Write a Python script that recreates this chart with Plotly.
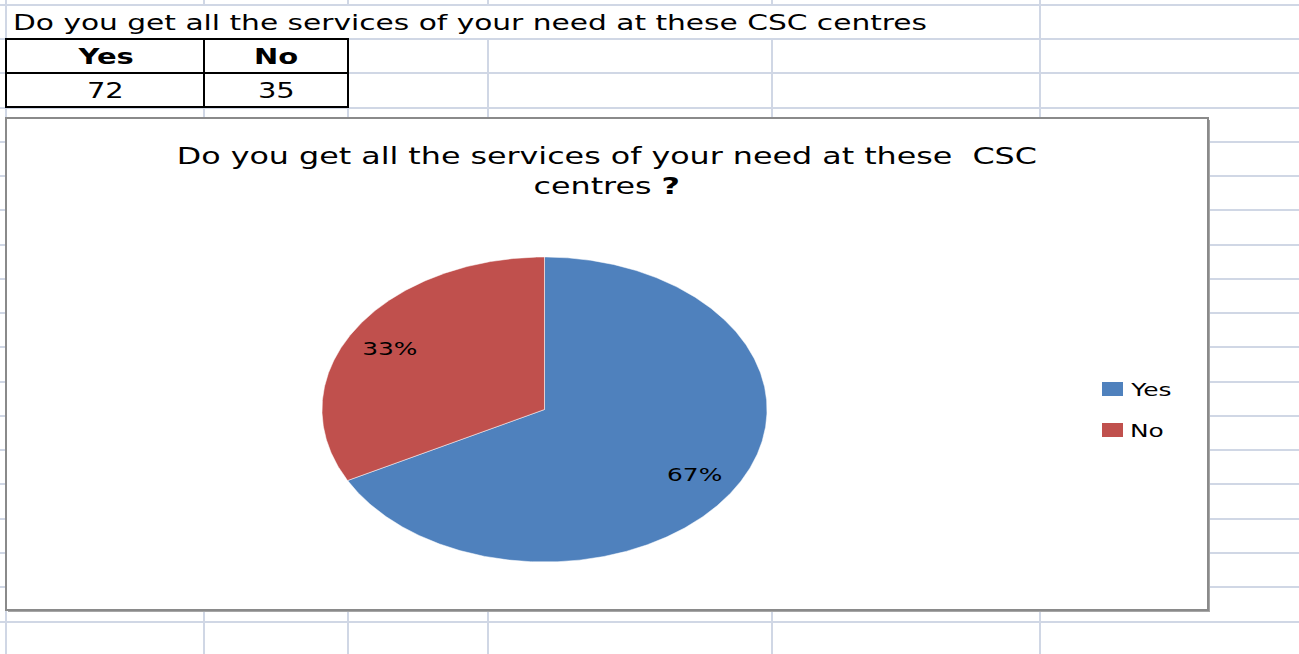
import numpy as np
import plotly.graph_objects as go

# Survey answers
question = "Do you get all the services of your need at these CSC centres"
categories = ["Yes", "No"]
counts = [72, 35]
colors = ["#4F81BD", "#C0504D"]

W, H = 1299, 654
FONT = "DejaVu Sans"
TEXT_STRETCH = 1.38  # horizontal stretch applied to every text element

# Worksheet grid positions (pixels)
col_lines = [6, 204, 348, 488, 772, 1040]
row_lines = [5, 39, 73, 108, 142, 176, 210, 245, 279, 313, 347, 382, 416,
             450, 484, 519, 553, 587, 622]
GRID = "#D0D7E5"

fig = go.Figure()
shapes = []
annotations = []

# sheet gridlines
for x in col_lines:
    shapes.append(dict(type="line", xref="x", yref="y", x0=x, x1=x, y0=0, y1=H,
                       line=dict(color=GRID, width=2), layer="below"))
for y in row_lines:
    shapes.append(dict(type="line", xref="x", yref="y", x0=0, x1=W, y0=y, y1=y,
                       line=dict(color=GRID, width=2), layer="below"))

# white cell behind the question text / table
shapes.append(dict(type="rect", xref="x", yref="y", x0=7, x1=1038, y0=6, y1=38,
                   fillcolor="white", line=dict(width=0), layer="below"))
shapes.append(dict(type="rect", xref="x", yref="y", x0=7, x1=347, y0=40, y1=106,
                   fillcolor="white", line=dict(width=0), layer="below"))

# question text in the sheet
annotations.append(dict(xref="x", yref="y", x=11, y=22, text=question,
                        showarrow=False, xanchor="left", yanchor="middle", align="left",
                        font=dict(family=FONT, size=21.5, color="black")))

# data table
tbl_x = [6, 204, 348]
tbl_y = [39, 73, 107]
for i in range(len(categories)):
    for j in range(2):
        shapes.append(dict(type="rect", xref="x", yref="y",
                           x0=tbl_x[i], x1=tbl_x[i + 1], y0=tbl_y[j], y1=tbl_y[j + 1],
                           line=dict(color="black", width=2), layer="below"))
    cx = (tbl_x[i] + tbl_x[i + 1]) / 2
    annotations.append(dict(xref="x", yref="y", x=cx, y=(tbl_y[0] + tbl_y[1]) / 2 + 1,
                            text="<b>%s</b>" % categories[i], showarrow=False,
                            font=dict(family=FONT, size=21, color="black")))
    annotations.append(dict(xref="x", yref="y", x=cx, y=(tbl_y[1] + tbl_y[2]) / 2 + 1,
                            text=str(counts[i]), showarrow=False,
                            font=dict(family=FONT, size=21, color="black")))

# chart area box
box = dict(x0=6, x1=1208, y0=118, y1=610)
shapes.append(dict(type="rect", xref="x", yref="y", x0=box["x0"] + 2, x1=box["x1"] + 2,
                   y0=box["y0"] + 2, y1=box["y1"] + 2,
                   fillcolor="#A6A6A6", line=dict(width=0), layer="below"))
shapes.append(dict(type="rect", xref="x", yref="y", **box,
                   fillcolor="white", line=dict(color="#8A8A8A", width=2), layer="below"))

# chart title
annotations.append(dict(xref="x", yref="y", x=607, y=171,
                        text="Do you get all the services of your need at these  CSC<br>centres <b>?</b>",
                        showarrow=False, xanchor="center", yanchor="middle",
                        font=dict(family=FONT, size=23, color="black")))

# pie slices drawn on their own axes (stretched to an ellipse)
total = sum(counts)
fracs = [c / total for c in counts]
start = 0.0
for cat, frac, col in zip(categories, fracs, colors):
    t = np.linspace(start, start + frac, max(int(frac * 720), 2))
    ang = np.radians(90 - 360 * t)
    xs = np.concatenate([[0], np.cos(ang), [0]])
    ys = np.concatenate([[0], np.sin(ang), [0]])
    fig.add_trace(go.Scatter(x=xs, y=ys, mode="lines", fill="toself",
                             fillcolor=col, line=dict(color="rgba(255,255,255,0.5)", width=1),
                             xaxis="x2", yaxis="y2", showlegend=False, name=cat,
                             hoverinfo="skip"))
    mid = np.radians(90 - 360 * (start + frac / 2))
    r = 0.8
    fig.add_trace(go.Scatter(x=[r * np.cos(mid) - 0.01], y=[r * np.sin(mid) - 0.027],
                             mode="text",
                             text=["%d%%" % round(frac * 100)],
                             textfont=dict(family=FONT, size=18, color="black"),
                             xaxis="x2", yaxis="y2", showlegend=False, hoverinfo="skip"))
    start += frac

# legend
leg_x, leg_y0, leg_dy = 1102, 389, 41
for i, (cat, col) in enumerate(zip(categories, colors)):
    yc = leg_y0 + i * leg_dy
    shapes.append(dict(type="rect", xref="x", yref="y", x0=leg_x, x1=leg_x + 21,
                       y0=yc - 7, y1=yc + 7, fillcolor=col, line=dict(width=0)))
    annotations.append(dict(xref="x", yref="y", x=leg_x + 26, y=yc, text=cat,
                            showarrow=False, xanchor="left", yanchor="middle", align="left",
                            font=dict(family=FONT, size=18, color="black")))

pie_l, pie_r, pie_t, pie_b = 322, 767, 257, 562
fig.update_layout(
    width=W, height=H, margin=dict(l=0, r=0, t=0, b=0),
    paper_bgcolor="white", plot_bgcolor="rgba(0,0,0,0)",
    xaxis=dict(range=[0, W], visible=False, domain=[0, 1], fixedrange=True),
    yaxis=dict(range=[H, 0], visible=False, domain=[0, 1], fixedrange=True),
    xaxis2=dict(range=[-1, 1], visible=False, domain=[pie_l / W, pie_r / W],
                anchor="y2", fixedrange=True),
    yaxis2=dict(range=[-1, 1], visible=False,
                domain=[(H - pie_b) / H, (H - pie_t) / H], anchor="x2", fixedrange=True),
    shapes=shapes, annotations=annotations, showlegend=False,
)

# widen the glyphs horizontally, keeping each text's anchor edge in place
stretch_js = """
document.querySelectorAll('.main-svg text').forEach(function (t) {
  var a = t.getAttribute('text-anchor');
  t.style.transformBox = 'fill-box';
  t.style.transformOrigin = a === 'start' ? 'left center' : (a === 'end' ? 'right center' : 'center');
  t.style.transform = 'scaleX(%s)';
});
""" % TEXT_STRETCH

fig.write_html("out.html", config={"displayModeBar": False}, post_script=stretch_js)
